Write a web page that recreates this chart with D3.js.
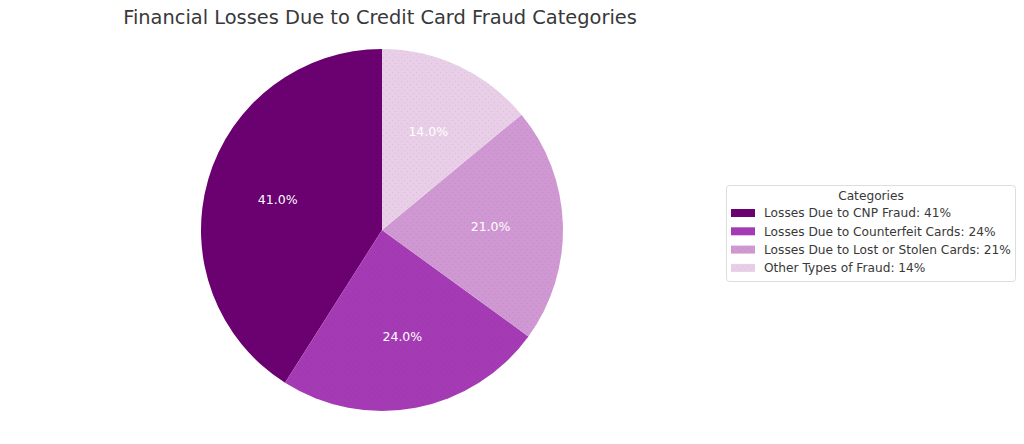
<!DOCTYPE html>
<html>
<head>
<meta charset="utf-8">
<script src="https://cdn.jsdelivr.net/npm/d3@7"></script>
<style>
  body { margin: 0; background: #fff; }
  svg { font-family: "DejaVu Sans", sans-serif; }
</style>
</head>
<body>
<svg id="chart" width="1024" height="444"></svg>
<script>
const categories = [
  "Losses Due to CNP Fraud",
  "Losses Due to Counterfeit Cards",
  "Losses Due to Lost or Stolen Cards",
  "Other Types of Fraud"
];
const values = [41, 24, 21, 14];
const colors = ["#6b0070", "#a53bb4", "#d098d2", "#e8cfe7"];

const width = 1024,
  height = 444;
const cx = 382,
  cy = 230,
  radius = 181;

const svg = d3.select("#chart");

// faint dotted texture like the original
const defs = svg.append("defs");
colors.forEach(function(c, i) {
  const p = defs
    .append("pattern")
    .attr("id", "dots" + i)
    .attr("patternUnits", "userSpaceOnUse")
    .attr("width", 6)
    .attr("height", 6);
  p.append("rect").attr("width", 6).attr("height", 6).attr("fill", c);
  p.append("circle")
    .attr("cx", 1.5)
    .attr("cy", 1.5)
    .attr("r", 0.6)
    .attr("fill", "#000")
    .attr("opacity", 0.07);
  p.append("circle")
    .attr("cx", 4.5)
    .attr("cy", 4.5)
    .attr("r", 0.6)
    .attr("fill", "#000")
    .attr("opacity", 0.07);
});

svg
  .append("text")
  .attr("x", 380)
  .attr("y", 24)
  .attr("text-anchor", "middle")
  .attr("font-size", 19.4)
  .attr("fill", "#383838")
  .text("Financial Losses Due to Credit Card Fraud Categories");

// counter-clockwise from the top, as matplotlib does with startangle=90
const pie = d3
  .pie()
  .sort(null)
  .startAngle(0)
  .endAngle(-2 * Math.PI)
  .value(d => d);

const arcs = pie(values);
const arc = d3.arc().innerRadius(0).outerRadius(radius);
const labelArc = d3
  .arc()
  .innerRadius(radius * 0.6)
  .outerRadius(radius * 0.6);

const g = svg.append("g").attr("transform", "translate(" + cx + "," + cy + ")");

g.selectAll("path")
  .data(arcs)
  .enter()
  .append("path")
  .attr("d", arc)
  .attr("fill", (d, i) => "url(#dots" + i + ")");

g.selectAll("text")
  .data(arcs)
  .enter()
  .append("text")
  .attr("transform", d => "translate(" + labelArc.centroid(d) + ")")
  .attr("text-anchor", "middle")
  .attr("dy", "0.35em")
  .attr("font-size", 12.5)
  .attr("fill", "#fff")
  .text(d => d.value.toFixed(1) + "%");

// legend
const lx = 726,
  ly = 185;
const legend = svg.append("g").attr("transform", "translate(" + lx + "," + ly + ")");
legend
  .append("rect")
  .attr("x", 0.5)
  .attr("y", 0.5)
  .attr("width", 289)
  .attr("height", 96)
  .attr("rx", 3)
  .attr("fill", "#fff")
  .attr("stroke", "#ddd");
legend
  .append("text")
  .attr("x", 145)
  .attr("y", 15)
  .attr("text-anchor", "middle")
  .attr("font-size", 12.2)
  .attr("fill", "#383838")
  .text("Categories");

const rows = legend
  .selectAll("g.row")
  .data(categories)
  .enter()
  .append("g")
  .attr("class", "row")
  .attr("transform", (d, i) => "translate(0," + (28 + i * 18.3) + ")");
rows
  .append("rect")
  .attr("x", 5)
  .attr("y", -4)
  .attr("width", 24)
  .attr("height", 8)
  .attr("fill", (d, i) => "url(#dots" + i + ")");
rows
  .append("text")
  .attr("x", 38)
  .attr("y", 0)
  .attr("dy", "0.35em")
  .attr("font-size", 12.2)
  .attr("fill", "#383838")
  .text((d, i) => d + ": " + values[i] + "%");
</script>
</body>
</html>
